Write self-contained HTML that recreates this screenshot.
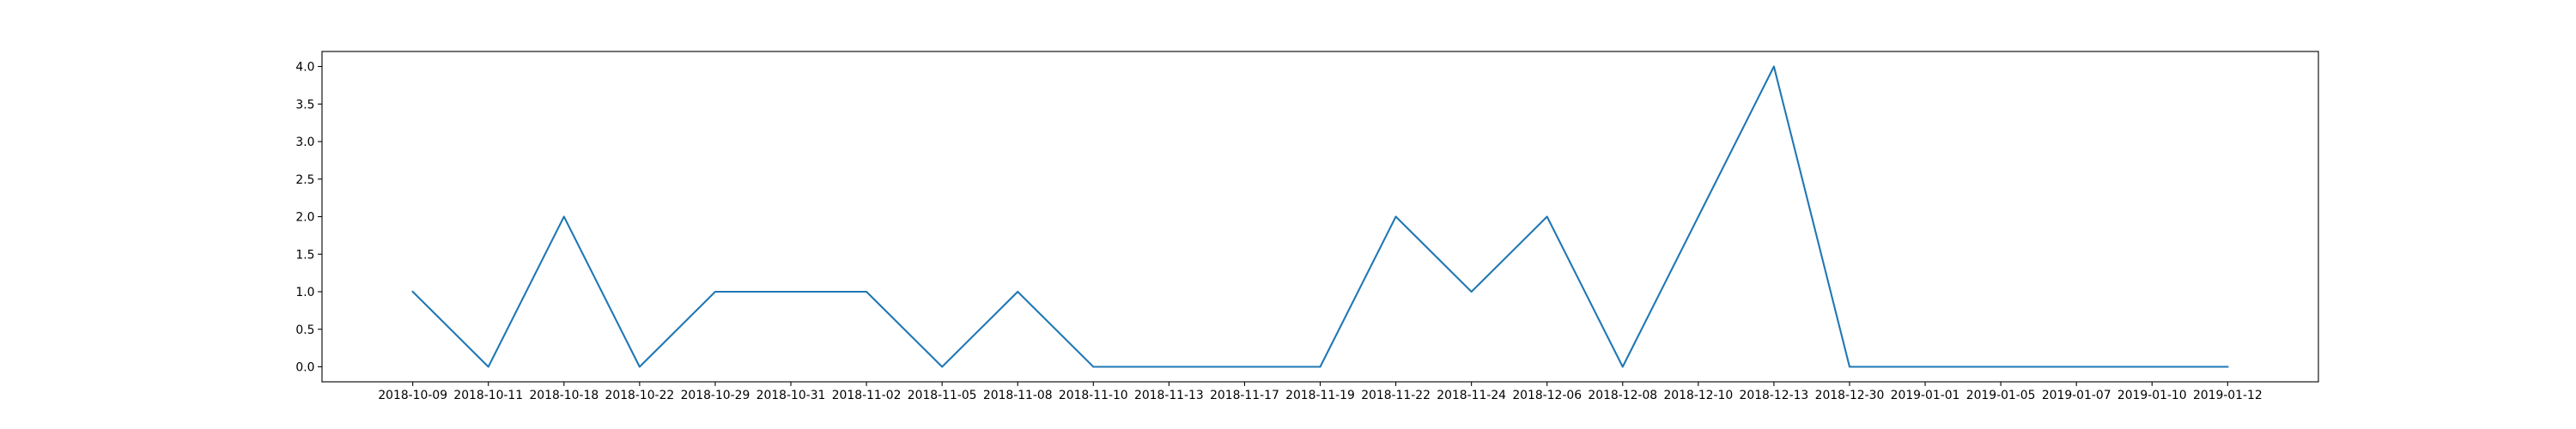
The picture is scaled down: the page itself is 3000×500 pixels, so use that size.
<!DOCTYPE html>
<html><head><meta charset="utf-8"><style>
body{margin:0;background:#fff;}
svg{display:block;font-family:"DejaVu Sans","Liberation Sans",sans-serif;}
</style></head><body>
<svg id="chart" width="3000" height="500" viewBox="0 0 3000 500" xmlns="http://www.w3.org/2000/svg">
<rect x="0" y="0" width="3000" height="500" fill="#fff"/>
<g id="plot"></g>
</svg>
<script>
const categories = ["2018-10-09","2018-10-11","2018-10-18","2018-10-22","2018-10-29","2018-10-31","2018-11-02","2018-11-05","2018-11-08","2018-11-10","2018-11-13","2018-11-17","2018-11-19","2018-11-22","2018-11-24","2018-12-06","2018-12-08","2018-12-10","2018-12-13","2018-12-30","2019-01-01","2019-01-05","2019-01-07","2019-01-10","2019-01-12"];
const values = [1,0,2,0,1,1,1,0,1,0,0,0,0,2,1,2,0,2,4,0,0,0,0,0,0];
const yTicks = [0,0.5,1,1.5,2,2.5,3,3.5,4];
const yTickLabels = ["0.0","0.5","1.0","1.5","2.0","2.5","3.0","3.5","4.0"];

const L=375,R=2700,T=60,B=445;
const n=categories.length;
const xmin=-0.05*(n-1), xmax=(n-1)*1.05;
const ymaxV=Math.max(...values), yminV=Math.min(...values);
const ypad=(ymaxV-yminV)*0.05;
const ymin=yminV-ypad, ymax=ymaxV+ypad;
const xs=i=>L+(i-xmin)/(xmax-xmin)*(R-L);
const ys=v=>B-(v-ymin)/(ymax-ymin)*(B-T);
const NS="http://www.w3.org/2000/svg";
const g=document.getElementById('plot');
function mk(tag,attrs){const e=document.createElementNS(NS,tag);for(const k in attrs)e.setAttribute(k,attrs[k]);g.appendChild(e);return e;}

let d=values.map((v,i)=>(i?'L':'M')+xs(i).toFixed(2)+' '+ys(v).toFixed(2)).join(' ');
const line=mk('path',{d:d,fill:'none',stroke:'#1f77b4','stroke-width':2.08,'stroke-linejoin':'round','stroke-linecap':'square'});



const frame=mk('rect',{x:L,y:T,width:R-L,height:B-T,fill:'none',stroke:'#000','stroke-width':1.1});



categories.forEach((c,i)=>{
  const x=xs(i);
  const t=mk('line',{x1:x,x2:x,y1:B,y2:B+4.9,stroke:'#000','stroke-width':1.1});
  
  
  const tx=mk('text',{x:x,y:B+20,'font-size':'13.9','text-anchor':'middle',fill:'#000'});
  tx.textContent=c;
  
  
});
yTicks.forEach((v,i)=>{
  const y=ys(v);
  const t=mk('line',{x1:L-4.9,x2:L,y1:y,y2:y,stroke:'#000','stroke-width':1.1});
  
  
  const tx=mk('text',{x:L-8.5,y:y+5,'font-size':'13.9','text-anchor':'end',fill:'#000'});
  tx.textContent=yTickLabels[i];
  
  
});
</script>
</body></html>
